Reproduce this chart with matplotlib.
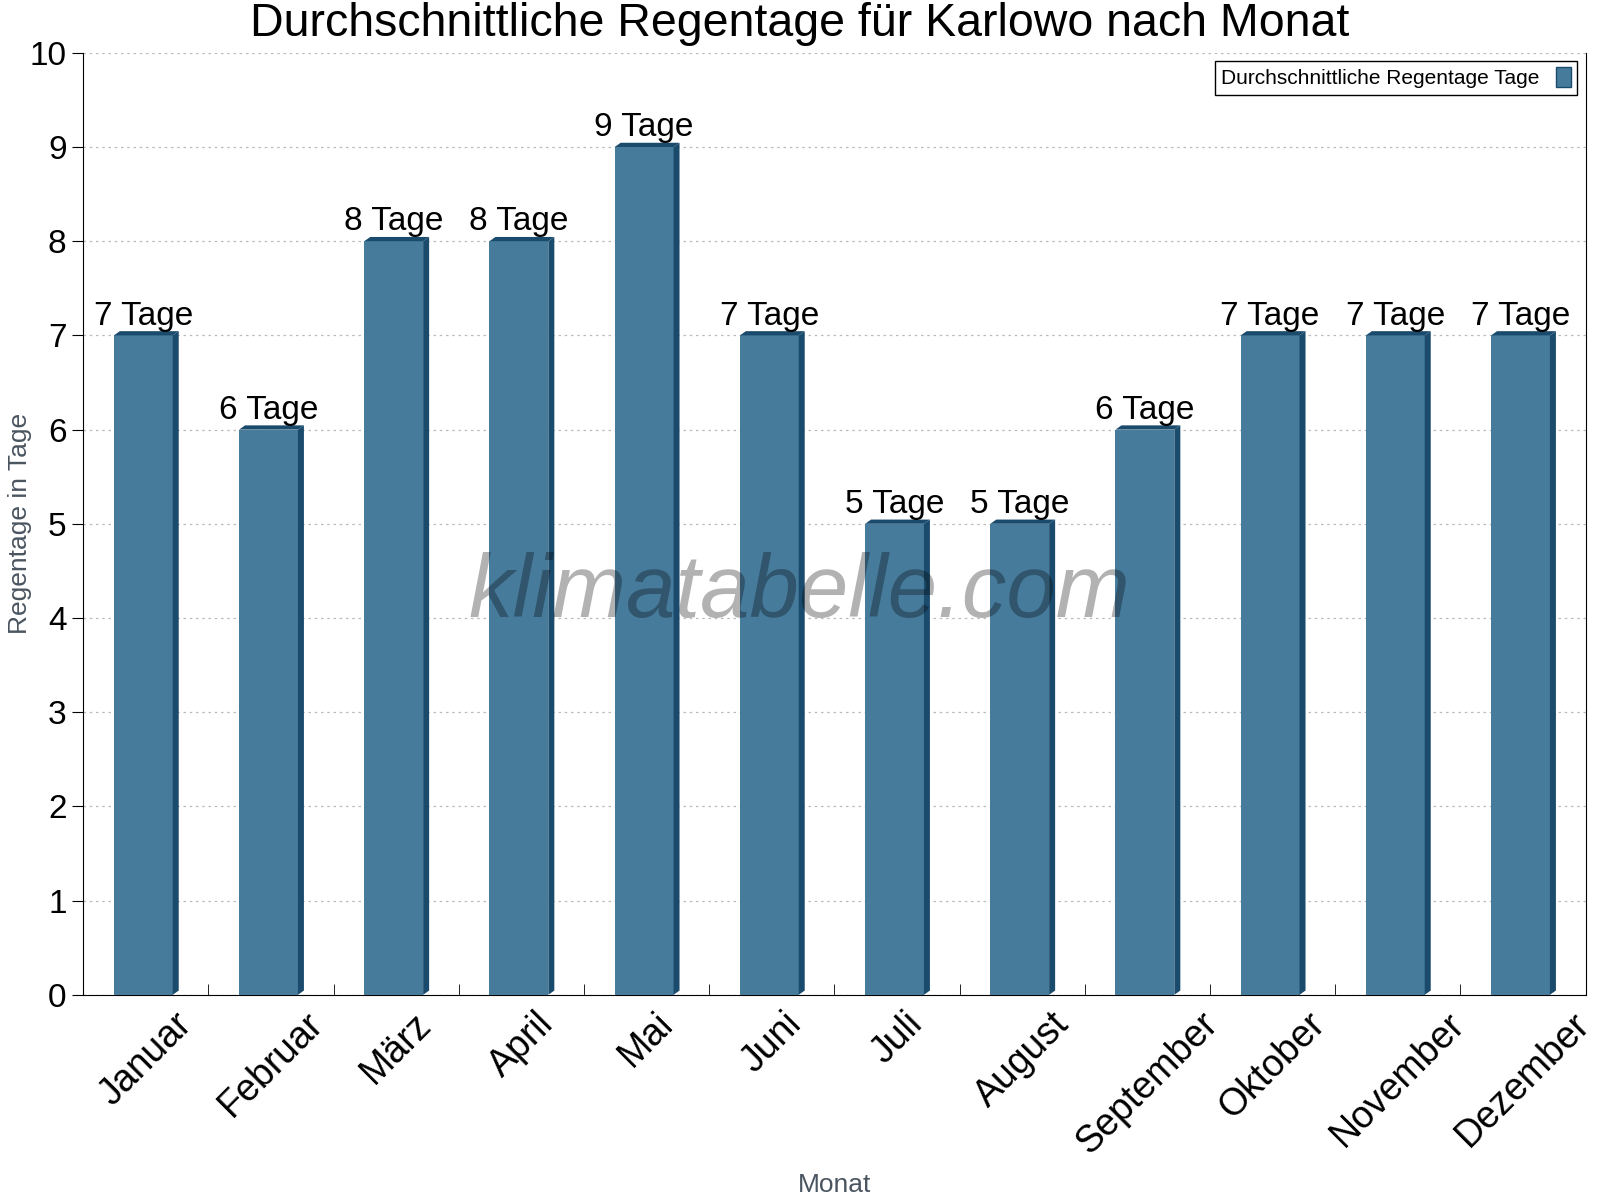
import matplotlib
matplotlib.use("Agg")
import matplotlib.pyplot as plt
from matplotlib.patches import Polygon, Patch

plt.rcParams['font.family'] = ['Liberation Sans', 'DejaVu Sans']

months = ['Januar', 'Februar', 'März', 'April', 'Mai', 'Juni', 'Juli',
          'August', 'September', 'Oktober', 'November', 'Dezember']
rain_days = [7, 6, 8, 8, 9, 7, 5, 5, 6, 7, 7, 7]

front = '#467b9c'
dark = '#1b4b6c'

fig = plt.figure(figsize=(16, 12), dpi=100)
ax = fig.add_axes([0.052, 0.171, 0.939, 0.785])

w = 0.47
dx, dy = 0.048, 0.045
for i, v in enumerate(rain_days):
    x0 = i - 0.02 - w / 2
    x1 = x0 + w
    ax.bar(x0, v, width=w, align='edge', color=front, zorder=3)
    # side face
    ax.add_patch(Polygon([(x1, 0), (x1 + dx, dy), (x1 + dx, v + dy), (x1, v)],
                         closed=True, facecolor=dark, edgecolor='none', zorder=3))
    # top face
    ax.add_patch(Polygon([(x0, v), (x0 + dx, v + dy), (x1 + dx, v + dy), (x1, v)],
                         closed=True, facecolor=dark, edgecolor='none', zorder=3))
    ax.text(i - 0.02, v + 0.04, f'{v} Tage', ha='center', va='bottom',
            fontsize=24, color='black', zorder=4)

ax.set_xlim(-0.5, 11.5)
ax.set_ylim(0, 10)
ax.set_yticks(range(0, 11))
ax.set_xticks(range(12))
ax.set_xticklabels(months, rotation=45, ha='center', fontsize=27)
ax.tick_params(axis='x', which='major', length=0, pad=8)
ax.set_xticks([i + 0.5 for i in range(-1, 12)], minor=True)
ax.tick_params(axis='x', which='minor', direction='in', length=8)
ax.tick_params(axis='y', labelsize=24, length=8, direction='out', pad=4)

ax.grid(axis='y', linestyle=(0, (2, 3)), color='#bbbbbb', linewidth=0.9, zorder=0)
ax.spines['top'].set_visible(False)

fig.text(0.5, 0.9985, 'Durchschnittliche Regentage für Karlowo nach Monat',
         ha='center', va='top', fontsize=33.5)
ax.set_xlabel('Monat', fontsize=19, color='#4a5560')
ax.xaxis.set_label_coords(0.5, -0.189)
ax.set_ylabel('Regentage in Tage', fontsize=19, color='#4a5560')
ax.yaxis.set_label_coords(-0.034, 0.5)

ax.text(0.477, 0.425, 'klimatabelle.com', transform=ax.transAxes, ha='center', va='center',
        fontsize=64, style='italic', color='black', alpha=0.3, zorder=5)

handle = Patch(facecolor=front, edgecolor='#1b4b6c')
leg = ax.legend([handle], ['Durchschnittliche Regentage Tage'], loc='upper right',
                fontsize=15, markerfirst=False, fancybox=False, edgecolor='black',
                handlelength=0.7, handleheight=1.1, borderaxespad=0.4, borderpad=0.3,
                framealpha=1)
leg.get_frame().set_linewidth(1.0)

fig.savefig('out.png', dpi=100)
